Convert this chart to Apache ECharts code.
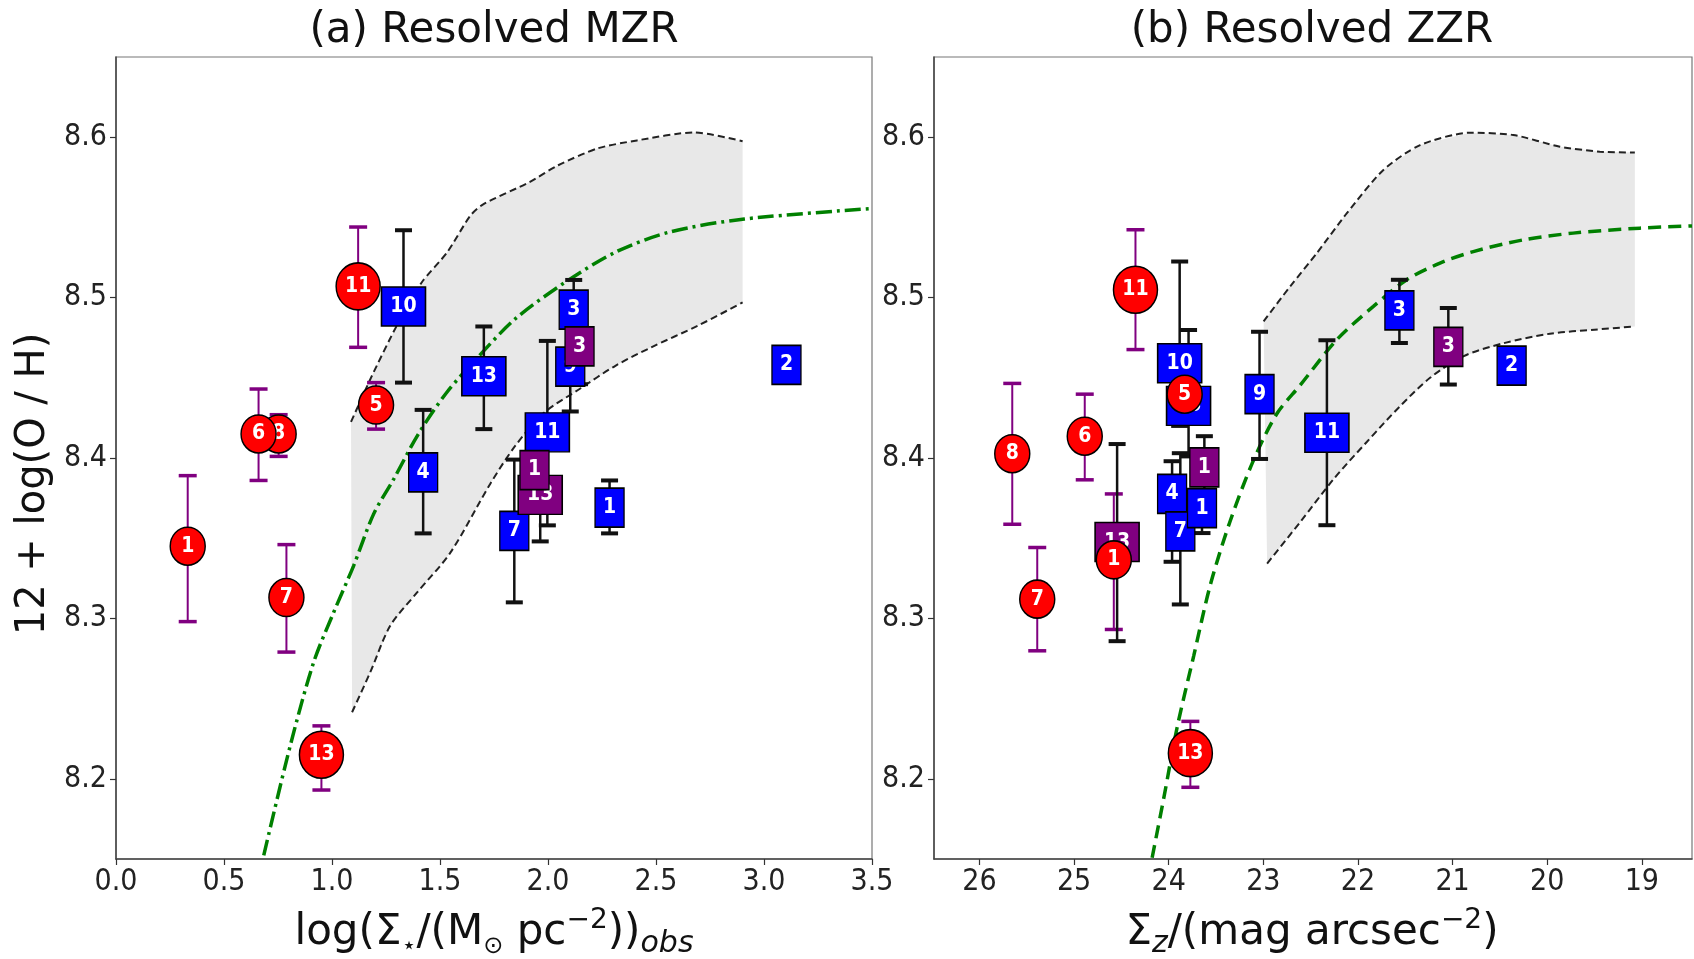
<!DOCTYPE html>
<html><head><meta charset="utf-8">
<script src="https://cdn.jsdelivr.net/npm/echarts@6/dist/echarts.min.js"></script>
<style>html,body{margin:0;padding:0;background:#fff;} #c{width:1694px;height:959px;}</style>
</head><body><div id="c"></div>
<script>
// ---------- tick labels ----------
const yTicks = [8.2, 8.3, 8.4, 8.5, 8.6];
const xTicksA = [0.0, 0.5, 1.0, 1.5, 2.0, 2.5, 3.0, 3.5];
const xTicksB = [19, 20, 21, 22, 23, 24, 25, 26];

// ---------- panel (a) Resolved MZR ----------
const aRedLabels = ['1', '8', '6', '7', '11', '5', '13'];
const aRedX  = [0.332, 0.753, 0.660, 0.789, 1.121, 1.204, 0.951];
const aRedY  = [8.345, 8.415, 8.415, 8.313, 8.507, 8.433, 8.215];
const aRedLo = [8.298, 8.401, 8.386, 8.279, 8.469, 8.418, 8.193];
const aRedHi = [8.389, 8.427, 8.443, 8.346, 8.544, 8.447, 8.233];

const aBlueLabels = ['9', '3', '10', '4', '13', '11', '7', '1', '2'];
const aBlueX  = [2.103, 2.119, 1.331, 1.422, 1.703, 1.997, 1.844, 2.285, 3.104];
const aBlueY  = [8.457, 8.4925, 8.4945, 8.391, 8.451, 8.416, 8.3545, 8.369, 8.458];
const aBlueLo = [8.429, 8.472, 8.447, 8.353, 8.418, 8.358, 8.310, 8.353, null];
const aBlueHi = [8.485, 8.511, 8.542, 8.430, 8.482, 8.473, 8.399, 8.386, null];

const aPurpLabels = ['13', '1', '3'];
const aPurpX  = [1.964, 1.9375, 2.146];
const aPurpY  = [8.377, 8.3925, 8.4696];
const aPurpLo = [8.348, 8.383, 8.446];
const aPurpHi = [8.400, 8.402, 8.490];

const aBandUpX = [1.088, 1.184, 1.30, 1.416, 1.532, 1.640, 1.698, 1.914, 2.047, 2.229, 2.412, 2.677, 2.901];
const aBandUpY = [8.4225, 8.451, 8.4825, 8.5096, 8.528, 8.551, 8.558, 8.572, 8.5825, 8.593, 8.598, 8.603, 8.5975];
const aBandLoX = [1.093, 1.177, 1.27, 1.393, 1.548, 1.733, 1.848, 1.98, 2.146, 2.312, 2.478, 2.694, 2.901];
const aBandLoY = [8.2415, 8.2664, 8.2955, 8.316, 8.341, 8.384, 8.4075, 8.428, 8.443, 8.4575, 8.469, 8.4825, 8.497];

const aFitX = [0.684, 0.807, 0.915, 1.0075, 1.10, 1.1925, 1.285, 1.40, 1.532, 1.682, 1.848, 2.08, 2.312, 2.561, 2.909, 3.5];
const aFitY = [8.1523, 8.2208, 8.2726, 8.3037, 8.3328, 8.365, 8.3867, 8.415, 8.441, 8.4638, 8.4867, 8.5096, 8.5283, 8.5408, 8.549, 8.5555];

// ---------- panel (b) Resolved ZZR ----------
const bRedLabels = ['8', '6', '7', '1', '11', '5', '13'];
const bRedX  = [25.653, 24.887, 25.389, 24.58, 24.351, 23.831, 23.771];
const bRedY  = [8.4027, 8.4136, 8.312, 8.3365, 8.5049, 8.4398, 8.216];
const bRedLo = [8.3587, 8.3864, 8.2798, 8.2931, 8.4676, 8.430, 8.1947];
const bRedHi = [8.4465, 8.4398, 8.3442, 8.3776, 8.5423, 8.450, 8.2358];

const bBlueLabels = ['10', '13', '9', '4', '7', '1', '3', '11', '2'];
const bBlueX  = [23.884, 23.79, 23.04, 23.964, 23.877, 23.648, 21.562, 22.328, 20.376];
const bBlueY  = [8.4591, 8.4325, 8.4398, 8.3776, 8.3543, 8.3687, 8.492, 8.4157, 8.4576];
const bBlueLo = [8.420, 8.401, 8.3994, 8.3353, 8.3087, 8.3532, 8.4717, 8.3581, null];
const bBlueHi = [8.5225, 8.4798, 8.4787, 8.398, 8.403, 8.380, 8.5111, 8.4734, null];

const bPurpLabels = ['13', '1', '3'];
const bPurpX  = [24.545, 23.623, 21.045];
const bPurpY  = [8.3476, 8.3942, 8.4693];
const bPurpLo = [8.2858, 8.375, 8.4458];
const bPurpHi = [8.4087, 8.4136, 8.4935];

const bBandUpX = [22.997, 22.716, 22.434, 22.117, 21.731, 21.343, 20.816, 20.359, 19.866, 19.444, 19.074];
const bBandUpY = [8.4852, 8.507, 8.5278, 8.5526, 8.5796, 8.5951, 8.6028, 8.6014, 8.5941, 8.591, 8.5904];
const bBandLoX = [22.96, 22.61, 22.259, 21.907, 21.555, 21.238, 20.887, 20.465, 19.97, 19.5, 19.074];
const bBandLoY = [8.3342, 8.3601, 8.3867, 8.41, 8.4323, 8.45, 8.4634, 8.4715, 8.4775, 8.480, 8.482];

const bFitX = [24.175, 24.053, 23.911, 23.736, 23.56, 23.349, 23.103, 22.857, 22.61, 22.223, 21.837, 21.484, 21.133, 20.781, 20.253, 19.726, 19.022, 18.47];
const bFitY = [8.1508, 8.1876, 8.232, 8.2765, 8.3209, 8.3609, 8.3987, 8.4276, 8.4454, 8.4738, 8.4945, 8.5111, 8.5215, 8.5287, 8.536, 8.5402, 8.5433, 8.5447];

// ---------- styling ----------
const FC = 'DejaVu Sans Condensed';
const FR = 'DejaVu Sans';
const RED = '#ff0000', BLUE = '#0000ff', PURPLE = '#800080', GREEN = '#008000';

function zip(xs, ys) { return xs.map((x, i) => [x, ys[i]]); }

// one scatter series per marker so that each marker (with its label) stacks over the previous ones
function markerSeries(labels, xs, ys, color, shape, ax, zBase) {
  return labels.map((l, i) => {
    let size;
    if (shape === 'circle') size = l.length > 1 ? [44, 47] : [35, 38];
    else size = l.length > 1 ? [44, 39] : [29, 39];
    return {
      type: 'scatter', xAxisIndex: ax, yAxisIndex: ax, z: zBase + i * 0.01,
      symbol: shape, symbolSize: size,
      data: [{ name: l, value: [xs[i], ys[i]] }],
      itemStyle: { color: color, borderColor: '#000', borderWidth: 1.5, opacity: 1 },
      label: { show: true, position: 'inside', formatter: '{b}', color: '#fff',
               fontFamily: FC, fontWeight: 'bold', fontSize: 21 },
      emphasis: { disabled: true },
      animation: false
    };
  });
}

function errSeries(xs, lo, hi, color, lw, capW, capH, ax, z) {
  const data = [];
  xs.forEach((x, i) => { if (lo[i] != null) data.push([x, lo[i], hi[i]]); });
  return {
    type: 'custom', xAxisIndex: ax, yAxisIndex: ax, z: z,
    data: data, encode: { x: 0, y: [1, 2] },
    renderItem: function (params, api) {
      const x = api.value(0);
      const pLo = api.coord([x, api.value(1)]);
      const pHi = api.coord([x, api.value(2)]);
      return { type: 'group', children: [
        { type: 'line', shape: { x1: pLo[0], y1: pLo[1], x2: pHi[0], y2: pHi[1] }, style: { stroke: color, lineWidth: lw } },
        { type: 'rect', shape: { x: pHi[0] - capW / 2, y: pHi[1] - capH / 2, width: capW, height: capH }, style: { fill: color } },
        { type: 'rect', shape: { x: pLo[0] - capW / 2, y: pLo[1] - capH / 2, width: capW, height: capH }, style: { fill: color } }
      ]};
    },
    animation: false
  };
}

function bandSeries(upX, upY, loX, loY, ax) {
  return {
    type: 'custom', xAxisIndex: ax, yAxisIndex: ax, z: 1,
    data: [[upX[0], upY[0]]],
    renderItem: function (params, api) {
      const pts = [];
      upX.forEach((x, i) => pts.push(api.coord([x, upY[i]])));
      for (let i = loX.length - 1; i >= 0; i--) pts.push(api.coord([loX[i], loY[i]]));
      return { type: 'polygon', shape: { points: pts }, style: { fill: '#e8e8e8' } };
    },
    animation: false, silent: true
  };
}

function lineSeries(xs, ys, color, width, dash, ax, z, smooth) {
  return {
    type: 'line', xAxisIndex: ax, yAxisIndex: ax, z: z,
    data: zip(xs, ys), showSymbol: false, symbol: 'none', smooth: smooth,
    lineStyle: { color: color, width: width, type: dash },
    animation: false, silent: true
  };
}

const tickLabelStyle = { fontFamily: FC, fontSize: 30, color: '#222' };

function yAxis(gi) {
  return {
    type: 'value', gridIndex: gi, min: 8.15, max: 8.65,
    splitLine: { show: false },
    axisLine: { show: true, lineStyle: { color: '#444', width: 1.5 } },
    axisTick: { show: true, length: 6, customValues: yTicks, lineStyle: { color: '#333', width: 1.2 } },
    axisLabel: Object.assign({ customValues: yTicks, margin: 9, formatter: v => v.toFixed(1) }, tickLabelStyle)
  };
}

const chart = echarts.init(document.getElementById('c'), null, { renderer: 'canvas' });

const series = [].concat(
  // panel a
  bandSeries(aBandUpX, aBandUpY, aBandLoX, aBandLoY, 0),
  lineSeries(aBandUpX, aBandUpY, '#222', 2, [7, 4], 0, 2, 0.25),
  lineSeries(aBandLoX, aBandLoY, '#222', 2, [7, 4], 0, 2, 0.3),
  lineSeries(aFitX, aFitY, GREEN, 3.5, [16, 5, 3, 5], 0, 2, 0.3),
  errSeries(aRedX, aRedLo, aRedHi, PURPLE, 2, 18, 3.5, 0, 3),
  errSeries(aBlueX, aBlueLo, aBlueHi, '#111', 2.5, 17, 4, 0, 3),
  errSeries(aPurpX, aPurpLo, aPurpHi, '#111', 2.5, 17, 4, 0, 3),
  markerSeries(aBlueLabels, aBlueX, aBlueY, BLUE, 'rect', 0, 4),
  markerSeries(aPurpLabels, aPurpX, aPurpY, PURPLE, 'rect', 0, 5),
  markerSeries(aRedLabels, aRedX, aRedY, RED, 'circle', 0, 6),
  // panel b
  bandSeries(bBandUpX, bBandUpY, bBandLoX, bBandLoY, 1),
  lineSeries(bBandUpX, bBandUpY, '#222', 2, [7, 4], 1, 2, 0.25),
  lineSeries(bBandLoX, bBandLoY, '#222', 2, [7, 4], 1, 2, 0.3),
  lineSeries(bFitX, bFitY, GREEN, 3.5, [13, 7], 1, 2, 0.3),
  errSeries(bRedX, bRedLo, bRedHi, PURPLE, 2, 18, 3.5, 1, 3),
  errSeries(bBlueX, bBlueLo, bBlueHi, '#111', 2.5, 17, 4, 1, 3),
  errSeries(bPurpX, bPurpLo, bPurpHi, '#111', 2.5, 17, 4, 1, 3),
  markerSeries(bBlueLabels, bBlueX, bBlueY, BLUE, 'rect', 1, 4),
  markerSeries(bPurpLabels, bPurpX, bPurpY, PURPLE, 'rect', 1, 5),
  markerSeries(bRedLabels, bRedX, bRedY, RED, 'circle', 1, 6)
);

const option = {
  backgroundColor: '#fff',
  animation: false,
  grid: [
    { left: 116, top: 57, width: 756, height: 802, show: true, borderColor: '#777', borderWidth: 1.2, outerBoundsMode: 'none', containLabel: false },
    { left: 934, top: 57, width: 758, height: 802, show: true, borderColor: '#777', borderWidth: 1.2, outerBoundsMode: 'none', containLabel: false }
  ],
  xAxis: [
    { type: 'value', gridIndex: 0, min: 0, max: 3.5,
      splitLine: { show: false },
      axisLine: { show: true, lineStyle: { color: '#444', width: 1.5 } },
      axisTick: { show: true, length: 6, customValues: xTicksA, lineStyle: { color: '#333', width: 1.2 } },
      axisLabel: Object.assign({ customValues: xTicksA, margin: 8, formatter: v => v.toFixed(1) }, tickLabelStyle) },
    { type: 'value', gridIndex: 1, min: 18.47, max: 26.48, inverse: true,
      splitLine: { show: false },
      axisLine: { show: true, lineStyle: { color: '#444', width: 1.5 } },
      axisTick: { show: true, length: 6, customValues: xTicksB, lineStyle: { color: '#333', width: 1.2 } },
      axisLabel: Object.assign({ customValues: xTicksB, margin: 8, formatter: v => String(Math.round(v)) }, tickLabelStyle) }
  ],
  yAxis: [yAxis(0), yAxis(1)],
  series: series,
  graphic: [
    { type: 'text', x: 494, y: 31, style: { text: '(a) Resolved MZR', fontFamily: FR, fontSize: 42, fill: '#111', align: 'center', verticalAlign: 'middle' } },
    { type: 'text', x: 1312, y: 31, style: { text: '(b) Resolved ZZR', fontFamily: FR, fontSize: 42, fill: '#111', align: 'center', verticalAlign: 'middle' } },
    { type: 'text', x: 34, y: 484, rotation: Math.PI / 2, style: { text: '12 + log(O / H)', fontFamily: FR, fontSize: 40, fill: '#111', align: 'center', verticalAlign: 'middle' } },
    { type: 'text', x: 494, y: 933, style: {
        text: '{m|log(Σ}{s|⋆}{m|/(M}{s|⊙}{m| pc}{p|−2}{m|))}{i|obs}',
        align: 'center', verticalAlign: 'middle',
        rich: {
          m: { fontFamily: FR, fontSize: 42, fill: '#111', lineHeight: 52, verticalAlign: 'middle' },
          s: { fontFamily: FR, fontSize: 24, fill: '#111', lineHeight: 24, verticalAlign: 'bottom' },
          p: { fontFamily: FR, fontSize: 28, fill: '#111', lineHeight: 28, verticalAlign: 'top' },
          i: { fontFamily: FR, fontSize: 30, fontStyle: 'italic', fill: '#111', lineHeight: 28, verticalAlign: 'bottom' }
        } } },
    { type: 'text', x: 1312, y: 933, style: {
        text: '{m|Σ}{i|z}{m|/(mag arcsec}{p|−2}{m|)}',
        align: 'center', verticalAlign: 'middle',
        rich: {
          m: { fontFamily: FR, fontSize: 42, fill: '#111', lineHeight: 52, verticalAlign: 'middle' },
          i: { fontFamily: FR, fontSize: 30, fontStyle: 'italic', fill: '#111', lineHeight: 28, verticalAlign: 'bottom' },
          p: { fontFamily: FR, fontSize: 28, fill: '#111', lineHeight: 28, verticalAlign: 'top' }
        } } }
  ]
};
chart.setOption(option);
</script></body></html>
